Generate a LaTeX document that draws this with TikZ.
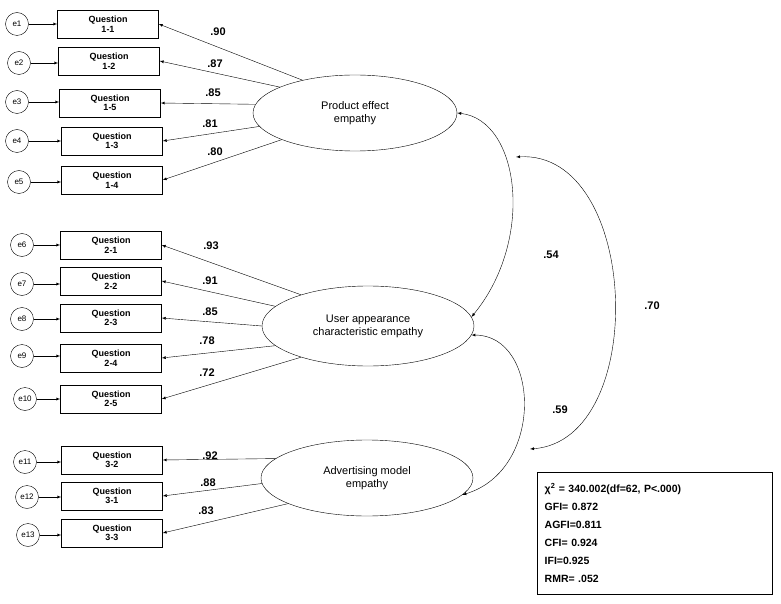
\documentclass[tikz,border=0pt]{standalone}
\usepackage{fontspec}
\setmainfont{Liberation Sans}
\usetikzlibrary{shapes.geometric}
\begin{document}
\begin{tikzpicture}[x=1pt,y=-1pt,
 box/.style={draw,minimum width=101pt,minimum height=28pt,inner sep=0pt,align=center,font=\bfseries\fontsize{9}{9.5}\selectfont},
 err/.style={draw,circle,minimum size=23pt,inner sep=0pt,font=\fontsize{8}{8}\selectfont},
 lat/.style={draw,ellipse,inner sep=0pt,align=center,font=\fontsize{11}{13}\selectfont},
 arr/.style={-latex,thin},
 lab/.style={font=\bfseries\fontsize{11}{11}\selectfont}]
\useasboundingbox (0,0) rectangle (781,604);
% latent
\node[lat,minimum width=204pt,minimum height=76pt] (L1) at (355,113) {Product effect\\empathy};
\node[lat,minimum width=212pt,minimum height=80pt] (L2) at (368,326) {User appearance\\characteristic empathy};
\node[lat,minimum width=212pt,minimum height=76pt] (L3) at (367,478) {Advertising model\\empathy};
% boxes and errors
\foreach \n/\t/\bx/\by/\ex/\ey in {
 q11/1-1/108/24/17/24, q12/1-2/109/61/19/63, q15/1-5/110/103/17/102, q13/1-3/112/141/17/141, q14/1-4/112/180/19/182,
 q21/2-1/111/245/22/245, q22/2-2/111/281/22/284, q23/2-3/111/318/22/319, q24/2-4/111/358/22/356, q25/2-5/111/399/25/399,
 q32/3-2/112/460/25/462, q31/3-1/112/496/27/497, q33/3-3/112/533/28/535}{
 \node[box] (\n) at (\bx,\by) {Question\\\t};
 \coordinate (c\n) at (\ex,\ey);
}
\foreach \n/\i in {q11/1,q12/2,q15/3,q13/4,q14/5,q21/6,q22/7,q23/8,q24/9,q25/10,q32/11,q31/12,q33/13}{
 \node[err] (e\i) at (c\n) {e\i};
 \draw[arr] (e\i) -- (e\i -| \n.west);
}
% loadings
\draw[arr] (L1.148) -- (q11.east);
\draw[arr] (L1.161) -- (q12.east);
\draw[arr] (L1.175) -- (q15.east);
\draw[arr] (L1.188) -- (q13.east);
\draw[arr] (L1.200) -- (q14.east);
\draw[arr] (L2.155) -- (q21.east);
\draw[arr] (L2.168) -- (q22.east);
\draw[arr] (L2.180) -- (q23.east);
\draw[arr] (L2.192) -- (q24.east);
\draw[arr] (L2.205) -- (q25.east);
\draw[arr] (L3.168) -- (q32.east);
\draw[arr] (L3.183) -- (q31.east);
\draw[arr] (L3.198) -- (q33.east);
\foreach \v/\x/\y [count=\k] in {.90/218/32,.87/215/64,.85/213/93,.81/210/124,.80/215/152,.93/211/246,.91/210/281,.85/210/312,.78/207/341,.72/207/373,.92/210/456,.88/208/483,.83/206/511}
 \node[lab] (t\k) at (\x,\y) {\v};
% covariances
\coordinate (a54) at (516,157);
\coordinate (b70) at (530,449);
\draw[latex-latex,thin] (L1.east) .. controls (520,120) and (535,240) .. (L2.5) ;
\draw[latex-latex,thin] (a54) .. controls (640,150) and (650,440) .. (b70);
\draw[latex-latex,thin] (L2.-5) .. controls (540,335) and (545,470) .. (L3.-10);
\node[lab] (t54) at (551,255) {.54};
\node[lab] (t70) at (652,306) {.70};
\node[lab] (t59) at (560,410) {.59};
% fit box
\node[draw,anchor=north west,minimum width=235pt,minimum height=122pt,text width=220pt,align=left,inner sep=7pt,font=\bfseries\fontsize{10.5}{18}\selectfont] (fit) at (537,472)
 {χ\textsuperscript{2} = 340.002(df=62, P<.000)\\GFI= 0.872\\AGFI=0.811\\CFI= 0.924\\IFI=0.925\\RMR= .052};
\end{tikzpicture}
\end{document}
